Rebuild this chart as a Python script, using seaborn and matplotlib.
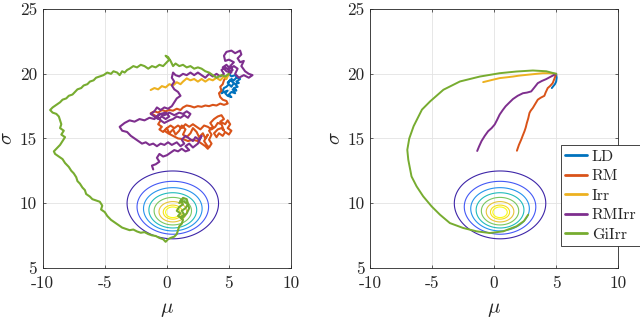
import numpy as np
import pandas as pd
import matplotlib
matplotlib.use("Agg")
import matplotlib.pyplot as plt
import seaborn as sns
from matplotlib.colors import LinearSegmentedColormap

# ---------------- data ----------------
methods = ["LD", "RM", "Irr", "RMIrr", "GiIrr"]
method_colors = ["#0072BD", "#D95319", "#EDB120", "#7E2F8E", "#77AC30"]

x_ticks = [-10, -5, 0, 5, 10]
x_tick_labels = ["-10", "-5", "0", "5", "10"]
y_ticks = [5, 10, 15, 20, 25]
y_tick_labels = ["5", "10", "15", "20", "25"]

# likelihood contour (normal model in mu, sigma)
contour_mu_center = 0.48
contour_sigma_center = 9.27
contour_sample_size = 30
contour_levels = [0.111, 0.251, 0.390, 0.531, 0.677, 0.807, 0.902, 0.943]

# ---- left panel: noisy trajectories, (mu, sigma) pairs ----
left_LD = [(5.0, 20.0), (5.2, 19.8), (5.5, 19.9), (5.7, 19.7), (5.9, 19.6), (5.6, 19.4), (5.8, 19.3),
           (5.5, 19.2), (5.7, 19.0), (5.4, 18.9), (5.6, 18.7), (5.3, 18.8), (5.5, 18.5), (5.2, 18.6),
           (5.0, 18.4), (5.2, 18.2), (4.9, 18.3), (4.7, 18.5), (4.9, 18.7), (4.6, 18.6), (4.4, 18.5),
           (4.6, 18.9), (4.8, 19.0), (5.0, 19.2), (5.2, 19.0), (5.4, 19.3), (5.1, 19.5), (4.9, 19.3),
           (5.2, 19.6), (5.4, 19.5), (5.6, 19.7)]

left_RM = [(5.0, 20.0), (4.8, 19.8), (4.6, 19.5), (4.5, 19.2), (4.3, 19.0), (4.4, 18.7), (4.2, 18.5),
           (4.3, 18.2), (4.5, 18.0), (4.8, 17.9), (4.9, 17.7), (4.6, 17.6),
           (4.3, 17.7), (4.0, 17.55), (3.7, 17.6), (3.4, 17.5), (3.1, 17.55), (2.8, 17.45), (2.5, 17.5),
           (2.2, 17.4), (1.9, 17.5), (1.6, 17.55), (1.3, 17.4), (1.1, 17.2), (0.8, 17.3), (0.5, 17.15),
           (0.2, 17.2), (-0.1, 17.1), (-0.4, 17.2), (-0.7, 17.0), (-1.0, 17.1), (-1.3, 16.95),
           (-1.0, 16.8), (-0.7, 16.6), (-0.5, 16.4), (-0.7, 16.1), (-0.4, 15.9), (-0.6, 15.7), (-0.3, 15.5),
           (0.0, 15.8), (0.2, 15.4), (0.5, 15.7), (0.7, 15.3), (1.0, 15.6), (1.2, 16.0), (1.5, 15.7),
           (1.3, 15.3), (1.6, 15.1), (1.9, 15.4), (2.1, 15.8), (2.4, 15.5), (2.6, 15.1), (2.9, 15.4),
           (3.1, 15.0), (3.3, 15.3), (3.0, 14.8), (3.2, 14.5), (3.4, 14.3), (3.6, 14.6), (3.4, 14.9),
           (3.6, 15.3), (3.4, 15.6), (3.7, 15.9), (3.5, 16.2), (3.8, 16.5), (4.1, 16.7), (4.4, 16.8),
           (4.6, 16.5), (4.3, 16.3), (4.7, 16.1), (4.9, 16.4), (5.1, 16.1), (4.9, 15.8), (5.2, 15.6),
           (5.0, 15.3), (4.7, 15.5), (4.5, 15.2), (4.2, 15.4), (4.0, 15.1), (3.8, 15.4), (4.1, 15.7),
           (4.4, 15.8), (4.6, 15.6), (4.4, 16.1), (4.1, 16.2), (3.9, 15.9), (3.6, 15.7), (3.3, 15.9),
           (3.0, 16.0), (2.7, 15.7), (2.4, 15.9), (2.1, 16.1), (1.8, 15.9), (1.5, 16.1), (1.2, 15.8),
           (0.9, 16.0), (0.6, 15.8), (0.3, 16.0), (0.0, 15.8), (-0.2, 15.6), (0.1, 15.4), (0.5, 15.2),
           (0.9, 15.0), (1.3, 14.95), (1.7, 14.8), (2.1, 14.9), (2.5, 14.8), (2.8, 14.6), (3.1, 14.4),
           (3.3, 14.2)]

left_Irr = [(5.0, 20.0), (4.8, 19.6), (4.6, 19.8), (4.3, 19.5), (4.0, 19.7), (3.7, 19.5), (3.4, 19.6),
            (3.1, 19.4), (2.8, 19.6), (2.5, 19.4), (2.2, 19.6), (1.9, 19.5), (1.6, 19.65), (1.3, 19.4),
            (1.1, 19.2), (0.8, 19.35), (0.5, 19.1), (0.2, 19.2), (-0.1, 18.95), (-0.4, 19.05),
            (-0.7, 18.8), (-1.0, 18.9), (-1.3, 18.75)]

left_RMIrr = [(5.0, 20.0), (5.3, 20.3), (5.1, 20.6), (5.4, 20.9), (5.0, 21.1), (4.7, 21.0), (4.6, 21.4),
              (4.8, 21.7), (5.2, 21.8), (5.5, 21.6), (5.9, 21.8), (6.0, 21.5), (5.7, 21.2), (5.9, 20.9),
              (6.2, 21.0), (6.0, 20.6), (6.3, 20.2), (6.6, 20.0), (6.9, 19.9), (6.6, 19.7), (6.2, 19.9),
              (5.8, 19.7), (5.5, 20.0), (5.7, 20.4), (5.4, 20.6), (5.1, 20.4), (4.8, 20.7), (4.5, 20.5),
              (4.8, 20.2), (5.2, 20.1), (5.0, 20.3), (4.7, 20.5), (4.4, 20.3), (4.6, 20.0), (4.3, 19.8),
              (4.0, 20.0), (3.7, 19.8), (3.4, 20.0), (3.1, 19.7), (2.8, 19.9), (2.5, 20.1), (2.2, 19.9),
              (1.9, 20.1), (1.6, 19.9), (1.3, 20.0), (1.0, 19.8), (0.7, 19.9), (0.5, 20.1), (0.4, 19.7),
              (0.6, 19.4), (0.4, 19.1), (0.6, 18.8), (0.9, 18.6), (1.1, 18.3), (0.8, 18.1), (0.6, 17.8),
              (0.4, 17.5), (0.1, 17.3),
              (-0.2, 17.4), (-0.5, 17.2), (-0.8, 17.4), (-1.0, 17.1), (-1.3, 16.9), (-1.0, 16.7),
              (-0.7, 16.5), (-0.4, 16.7), (-0.1, 16.5), (0.2, 16.7), (-0.1, 17.0), (-0.5, 16.9),
              (-0.8, 16.7), (-0.5, 16.4), (-0.2, 16.2), (0.2, 16.4), (0.5, 16.5), (0.8, 16.7), (1.1, 16.6),
              (1.4, 16.8), (1.7, 16.6), (1.9, 16.9), (1.6, 17.1), (1.3, 16.9), (1.0, 17.0), (0.6, 16.8),
              (0.2, 17.0), (-0.2, 16.8), (-0.6, 16.9), (-1.0, 16.5),
              (-1.4, 16.6), (-1.8, 16.4), (-2.2, 16.5), (-2.6, 16.3), (-3.0, 16.4), (-3.4, 16.2),
              (-3.8, 15.9), (-3.6, 15.6), (-3.2, 15.5), (-2.9, 15.2), (-2.6, 15.0), (-2.3, 14.8),
              (-2.0, 14.6), (-1.7, 14.7), (-1.4, 14.5), (-1.1, 14.6), (-0.8, 14.4), (-0.5, 14.6),
              (-0.2, 14.5), (0.1, 14.7), (0.4, 14.5), (0.8, 14.7),
              (1.1, 14.4), (1.4, 14.6), (1.2, 14.9), (1.5, 15.2), (1.8, 15.0), (2.1, 14.8), (2.3, 15.1),
              (2.6, 14.9), (2.8, 15.2), (2.5, 14.6), (2.1, 14.3), (1.8, 14.6), (1.5, 14.4), (1.8, 14.1),
              (1.5, 14.0), (1.2, 14.2), (0.9, 14.0), (0.6, 14.1), (0.3, 13.9),
              (0.0, 13.7), (-0.3, 13.6), (-0.6, 13.8), (-0.8, 13.5), (-0.6, 13.2), (-0.9, 13.0),
              (-1.2, 12.9), (-1.1, 12.6)]

left_GiIrr = [(5.0, 20.0), (4.7, 19.8), (4.4, 19.9), (4.0, 19.7), (3.7, 19.9), (3.4, 20.1), (3.1, 20.2),
              (2.8, 20.4), (2.5, 20.5), (2.2, 20.4), (1.9, 20.6), (1.6, 20.5), (1.3, 20.7), (1.0, 20.6),
              (0.7, 20.8), (0.5, 20.6), (0.3, 21.0), (0.1, 21.3), (-0.1, 21.4), (0.2, 21.1), (-0.1, 20.8),
              (-0.3, 20.6), (-0.6, 20.7), (-0.9, 20.5), (-1.2, 20.6), (-1.5, 20.4), (-1.8, 20.6),
              (-2.1, 20.7), (-2.4, 20.5), (-2.7, 20.6), (-3.0, 20.4), (-3.2, 20.3), (-3.4, 20.1),
              (-3.6, 20.2), (-3.8, 19.9), (-4.0, 20.1), (-4.3, 20.2), (-4.5, 20.0), (-4.8, 20.1),
              (-5.1, 19.9), (-5.4, 19.8), (-5.7, 19.7), (-5.9, 19.5), (-6.2, 19.4), (-6.4, 19.2),
              (-6.7, 19.1), (-6.9, 18.9), (-7.2, 18.8), (-7.4, 18.6), (-7.6, 18.4), (-7.9, 18.3),
              (-8.1, 18.1), (-8.4, 18.0), (-8.6, 17.8), (-8.9, 17.6), (-9.2, 17.4), (-9.4, 17.2),
              (-9.2, 17.0), (-8.9, 16.9), (-8.7, 16.7), (-8.6, 16.4), (-8.5, 16.1), (-8.6, 15.8),
              (-8.3, 15.6), (-8.5, 15.3), (-8.2, 15.1), (-8.4, 14.8), (-8.6, 14.5), (-8.8, 14.3),
              (-9.1, 14.0), (-9.0, 13.8), (-8.7, 13.6), (-8.4, 13.4), (-8.2, 13.1), (-7.9, 12.8),
              (-7.7, 12.5), (-7.5, 12.3), (-7.3, 12.0), (-7.2, 11.7), (-7.0, 11.5), (-6.8, 11.2),
              (-6.6, 11.0), (-6.5, 10.7), (-6.2, 10.5), (-6.0, 10.3), (-5.7, 10.2), (-5.4, 10.1),
              (-5.2, 9.8), (-5.3, 9.5), (-5.0, 9.3), (-4.8, 9.0), (-4.5, 8.7), (-4.2, 8.5), (-3.9, 8.3),
              (-3.6, 8.1), (-3.3, 8.0), (-3.0, 7.9), (-2.7, 7.95), (-2.4, 7.8), (-2.1, 7.7), (-1.8, 7.75),
              (-1.5, 7.6), (-1.2, 7.5), (-0.9, 7.45), (-0.6, 7.3), (-0.3, 7.2), (-0.1, 7.0), (0.1, 7.2),
              (0.3, 7.3), (0.6, 7.4), (0.8, 7.6), (0.9, 7.9), (1.0, 8.2), (1.2, 8.4), (1.3, 8.7),
              (1.1, 8.9), (1.4, 9.1), (1.2, 9.4), (1.5, 9.6), (1.7, 9.9), (1.4, 10.1), (1.1, 10.2),
              (1.3, 9.9), (1.0, 9.7), (0.8, 9.4), (1.1, 9.2), (0.9, 9.0), (1.2, 8.8), (1.6, 9.2),
              (1.8, 9.6), (1.6, 10.3), (1.3, 10.4), (1.0, 10.0)]

# ---- right panel: smooth trajectories, (mu, sigma) pairs ----
right_LD = [(5.0, 20.0), (5.04, 19.7), (5.0, 19.4), (4.9, 19.2), (4.77, 19.05), (4.65, 18.9)]

right_RM = [(5.0, 20.0), (4.85, 19.6), (4.72, 19.28), (4.5, 19.05), (4.32, 18.9), (4.15, 18.55),
            (4.05, 18.3), (3.75, 18.15), (3.52, 18.0), (3.3, 17.65), (3.12, 17.36), (2.95, 17.15),
            (2.85, 16.97), (2.75, 16.55), (2.64, 16.2), (2.55, 15.85), (2.45, 15.56), (2.3, 15.2),
            (2.19, 14.92), (2.0, 14.5), (1.84, 14.05)]

right_Irr = [(5.0, 20.0), (4.5, 20.05), (3.92, 20.05), (3.2, 19.98), (2.59, 19.92), (2.0, 19.86),
             (1.52, 19.79), (1.0, 19.73), (0.45, 19.67), (-0.2, 19.52), (-0.88, 19.36)]

right_RMIrr = [(5.0, 20.0), (4.6, 19.8), (4.19, 19.59), (3.85, 19.45), (3.52, 19.28), (3.25, 18.95),
               (2.99, 18.64), (2.65, 18.55), (2.32, 18.5), (1.9, 18.3), (1.52, 18.05), (1.2, 17.75),
               (0.93, 17.49), (0.7, 17.2), (0.45, 16.85), (0.25, 16.45), (0.05, 16.08), (-0.2, 15.8),
               (-0.48, 15.56), (-0.75, 15.2), (-1.01, 14.8), (-1.2, 14.4), (-1.36, 14.03)]

right_GiIrr = [(5.0, 20.0), (4.2, 20.2), (3.12, 20.26), (1.79, 20.18), (0.45, 20.05), (-1.15, 19.79),
               (-2.75, 19.41), (-4.08, 18.77), (-5.15, 17.87), (-5.81, 17.23), (-6.48, 15.95),
               (-6.83, 15.0), (-6.99, 14.12), (-6.91, 13.35), (-6.65, 12.06), (-6.24, 11.29),
               (-5.71, 10.52), (-5.03, 9.74), (-4.36, 9.1), (-3.56, 8.45), (-2.49, 8.07), (-1.41, 7.81),
               (-0.34, 7.68), (0.74, 7.81), (1.81, 8.2), (2.4, 8.6), (2.75, 9.1)]

left_paths = {"LD": left_LD, "RM": left_RM, "Irr": left_Irr, "RMIrr": left_RMIrr, "GiIrr": left_GiIrr}
right_paths = {"LD": right_LD, "RM": right_RM, "Irr": right_Irr, "RMIrr": right_RMIrr, "GiIrr": right_GiIrr}


def to_frame(paths):
    rows = []
    for m in methods:
        for i, (a, b) in enumerate(paths[m]):
            rows.append({"method": m, "step": i, "mu": a, "sigma": b})
    return pd.DataFrame(rows)


df_left = to_frame(left_paths)
df_right = to_frame(right_paths)

# ---------------- style ----------------
sns.set_theme(style="ticks")
plt.rcParams.update({
    "font.family": ["cmr10", "DejaVu Serif"],
    "mathtext.fontset": "cm",
    "axes.unicode_minus": False,
    "axes.formatter.use_mathtext": True,
})

parula = LinearSegmentedColormap.from_list("parula", [
    (0.2422, 0.1504, 0.6603), (0.2810, 0.3228, 0.9579), (0.1786, 0.5289, 0.9682),
    (0.0689, 0.6948, 0.8394), (0.2161, 0.7843, 0.5923), (0.6720, 0.7793, 0.2227),
    (0.9970, 0.7659, 0.2199), (0.9598, 0.8870, 0.1009), (0.9769, 0.9839, 0.0805)])
ring_colors = [parula(i / (len(contour_levels) - 1)) for i in range(len(contour_levels))]

palette = dict(zip(methods, method_colors))

fig = plt.figure(figsize=(6.4, 3.19), dpi=100)
ax1 = fig.add_axes([0.0667, 0.161, 0.388, 0.81])
ax2 = fig.add_axes([0.578, 0.161, 0.388, 0.81])

gm = np.linspace(-10, 10, 600)
gs = np.linspace(5, 25, 600)
M, S = np.meshgrid(gm, gs)
n = contour_sample_size
s0 = contour_sigma_center
Z = np.exp(n * (np.log(s0 / S) + 0.5 - (s0 ** 2 + (M - contour_mu_center) ** 2) / (2 * S ** 2)))

for ax, df, lw in [(ax1, df_left, 1.5), (ax2, df_right, 1.4)]:
    ax.contour(M, S, Z, levels=contour_levels, colors=ring_colors, linewidths=0.8)
    sns.lineplot(data=df, x="mu", y="sigma", hue="method", hue_order=methods,
                 palette=palette, sort=False, estimator=None, lw=lw, ax=ax, legend=True)
    ax.set_xlim(-10, 10)
    ax.set_ylim(5, 25)
    ax.set_xticks(x_ticks)
    ax.set_xticklabels(x_tick_labels)
    ax.set_yticks(y_ticks)
    ax.set_yticklabels(y_tick_labels)
    ax.grid(True, color="#e3e3e3", lw=0.6)
    ax.set_axisbelow(True)
    for sp in ax.spines.values():
        sp.set_visible(True)
        sp.set_color("#262626")
        sp.set_linewidth(0.6)
    ax.tick_params(direction="in", length=2.5, width=0.5, top=True, right=True,
                   labelsize=12.5, colors="#262626")
    ax.tick_params(axis="x", pad=6)
    ax.tick_params(axis="y", pad=4)
    ax.set_xlabel(r"$\mu$", fontsize=15)
    ax.set_ylabel(r"$\sigma$", fontsize=15)
    ax.xaxis.set_label_coords(0.5, -0.128)
    ax.yaxis.set_label_coords(-0.105, 0.5)
    ax.set_facecolor("white")

ax1.get_legend().remove()
handles, labels = ax2.get_legend_handles_labels()
ax2.get_legend().remove()
for h in handles:
    h.set_linewidth(2.0)
leg = ax2.legend(handles, labels, loc="upper left", bbox_to_anchor=(0.768, 0.475),
                 borderaxespad=0, frameon=True, fancybox=False, framealpha=1,
                 edgecolor="#262626", fontsize=11.5, handlelength=1.35,
                 handletextpad=0.3, borderpad=0.3, labelspacing=0.33)
leg.get_frame().set_linewidth(0.6)

fig.savefig("out.png", dpi=100)
